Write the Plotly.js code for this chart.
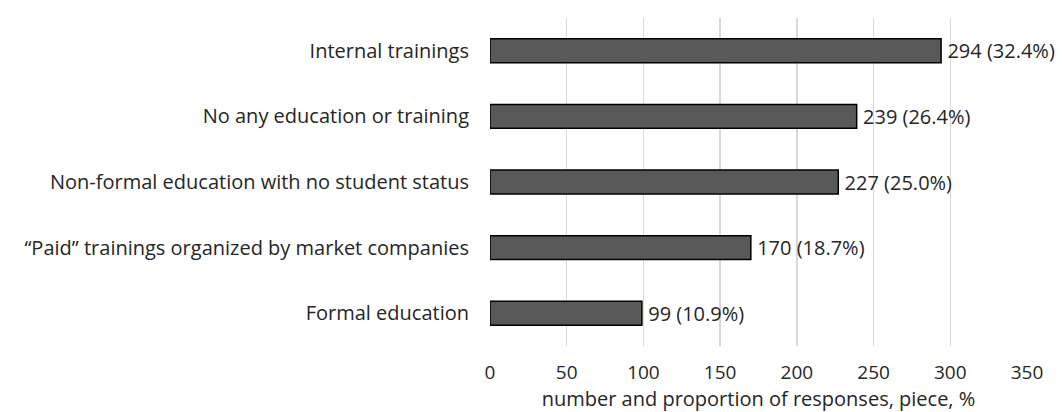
<!DOCTYPE html>
<html>
<head>
<meta charset="utf-8">
<script src="https://cdn.plot.ly/plotly-3.0.1.min.js"></script>
<style>html,body{margin:0;padding:0;background:#fff;}#chart{width:1062px;height:412px;}</style>
</head>
<body>
<div id="chart"></div>
<script>
const categories = [
  "Internal trainings",
  "No any education or training",
  "Non-formal education with no student status",
  "\u201cPaid\u201d trainings organized by market companies",
  "Formal education"
];
const counts = [294, 239, 227, 170, 99];
const shares = [32.4, 26.4, 25.0, 18.7, 10.9];
const xTickVals = [0, 50, 100, 150, 200, 250, 300, 350];
const xTitle = "number and proportion of responses, piece, %";

const labels = counts.map((c, i) => "\u2009" + c + " (" + shares[i].toFixed(1) + "%)");
const font = "Open Sans, Liberation Sans, sans-serif";
const txt = "#262626";

Plotly.newPlot("chart", [{
  type: "bar",
  orientation: "h",
  x: counts,
  y: categories,
  text: labels,
  textposition: "outside",
  constraintext: "none",
  cliponaxis: false,
  textfont: {family: font, size: 20, color: txt},
  marker: {color: "#595959", line: {color: "#000", width: 1.5}},
  width: 0.365,
  hoverinfo: "skip"
}], {
  width: 1062, height: 412,
  margin: {l: 490, r: 35, t: 18, b: 66},
  paper_bgcolor: "#fff", plot_bgcolor: "#fff",
  showlegend: false,
  font: {family: font, size: 20, color: txt},
  xaxis: {
    range: [0, 350],
    tickvals: xTickVals,
    showgrid: true, gridcolor: "#d9d9d9", gridwidth: 1.5,
    zeroline: false, showline: false, ticks: "",
    ticklabelstandoff: 13,
    tickfont: {family: font, size: 19, color: txt},
    title: {text: xTitle, standoff: 9, font: {family: font, size: 20, color: txt}},
    fixedrange: true
  },
  yaxis: {
    type: "category",
    autorange: "reversed",
    showgrid: false, zeroline: false, showline: false, ticks: "",
    ticklabelstandoff: 20,
    tickfont: {family: font, size: 20, color: txt},
    fixedrange: true
  }
}, {displayModeBar: false, staticPlot: true});
</script>
</body>
</html>
